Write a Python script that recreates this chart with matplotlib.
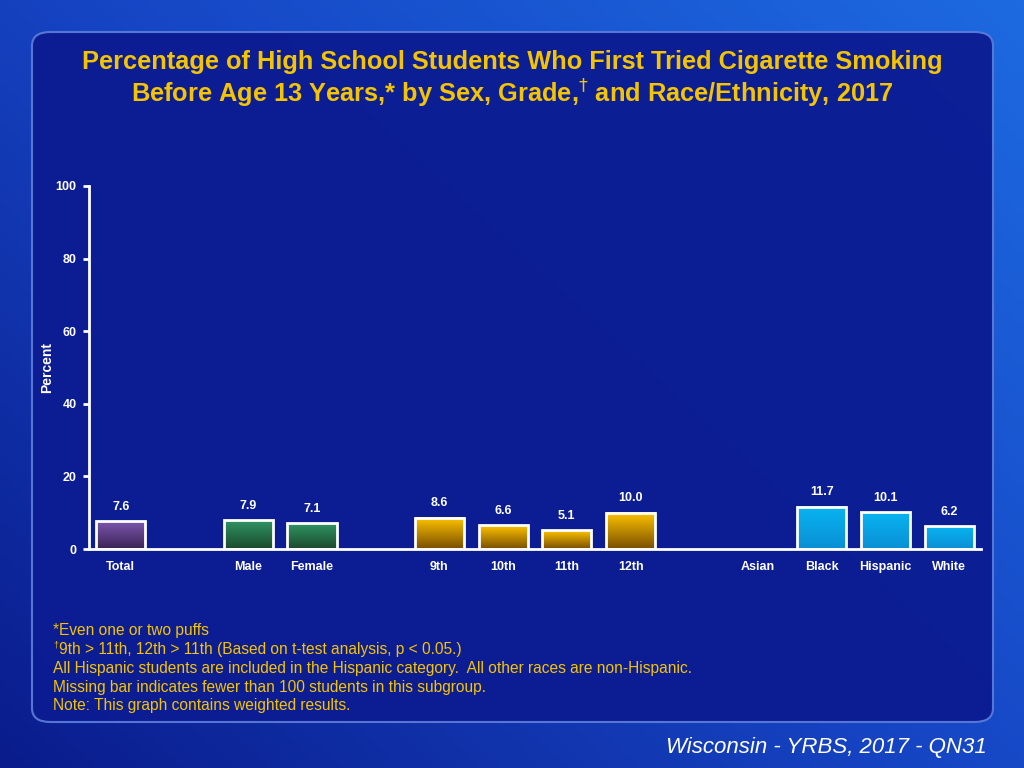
import numpy as np
import matplotlib
matplotlib.use("Agg")
import matplotlib.pyplot as plt
from matplotlib.patches import FancyBboxPatch, Rectangle
from matplotlib.colors import LinearSegmentedColormap

plt.rcParams['font.family'] = ['Liberation Sans', 'DejaVu Sans']

# data
labels = ["Total", "", "Male", "Female", "", "9th", "10th", "11th", "12th", "", "Asian", "Black", "Hispanic", "White"]
values = [7.6, None, 7.9, 7.1, None, 8.6, 6.6, 5.1, 10.0, None, None, 11.7, 10.1, 6.2]
groups = ["total", None, "sex", "sex", None, "grade", "grade", "grade", "grade", None, "race", "race", "race", "race"]

# gradient colours (top, bottom) per group
grad = {
    "total": ("#7d56b0", "#3b2354"),
    "sex": ("#2f9563", "#1b4a2e"),
    "grade": ("#ffc400", "#7a4f00"),
    "race": ("#08b4f0", "#0a8fd6"),
}

yellow = "#f5c400"

fig = plt.figure(figsize=(10.24, 7.68), dpi=100)

# background
bg = fig.add_axes([0, 0, 1, 1], zorder=-10)
bg.set_axis_off()
xx, yy = np.meshgrid(np.linspace(0, 1, 256), np.linspace(0, 1, 256))
t = np.clip(0.55 * xx + 0.45 * (1 - yy), 0, 1)
bgmap = LinearSegmentedColormap.from_list("bg", ["#0a1c8c", "#1645c4", "#1d6ae0"])
bg.imshow(t, cmap=bgmap, extent=[0, 1, 0, 1], aspect="auto", origin="upper")
bg.set_xlim(0, 1)
bg.set_ylim(0, 1)
panel = FancyBboxPatch((32 / 1024, 1 - 722 / 768), (993 - 32) / 1024, (722 - 32) / 768,
                       boxstyle="round,pad=0,rounding_size=0.018",
                       facecolor="#0c1c92", edgecolor="#5a7ad8", lw=1.5, alpha=0.96)
bg.add_patch(panel)

ax = fig.add_axes([89 / 1024, 1 - 549 / 768, (981 - 89) / 1024, (549 - 186) / 768])
ax.set_facecolor("none")

w = 0.77
for i, (v, g) in enumerate(zip(values, groups)):
    if v is None:
        continue
    top, bot = grad[g]
    cm = LinearSegmentedColormap.from_list(g, [bot, top])
    ax.imshow(np.linspace(0, 1, 64).reshape(-1, 1), cmap=cm, origin="lower",
              extent=[i - w / 2, i + w / 2, 0, v], aspect="auto", zorder=2)
    ax.add_patch(Rectangle((i - w / 2, 0), w, v, facecolor="none",
                           edgecolor="white", lw=2, zorder=3))
    ax.annotate(f"{v:.1f}", (i, v), xytext=(0, 6), textcoords="offset points",
                ha="center", va="bottom", color="white", fontsize=9, fontweight="bold")

ax.set_xlim(-0.5, len(labels) - 0.5)
ax.set_ylim(0, 100)
ax.set_xticks(range(len(labels)))
ax.set_xticklabels(labels, color="white", fontsize=9, fontweight="bold", va="baseline")
ax.tick_params(axis="x", length=0, pad=15)
ax.set_yticks([0, 20, 40, 60, 80, 100])
ax.tick_params(axis="y", colors="white", length=4, width=2, labelsize=9, pad=5)
for lab in ax.get_yticklabels():
    lab.set_fontweight("bold")
for s in ["top", "right"]:
    ax.spines[s].set_visible(False)
for s in ["left", "bottom"]:
    ax.spines[s].set_color("white")
    ax.spines[s].set_linewidth(2)
ax.set_ylabel("Percent", color="white", fontsize=10, fontweight="bold", labelpad=1)

fig.text(0.5, 1 - 62 / 768, "Percentage of High School Students Who First Tried Cigarette Smoking",
         ha="center", va="center", color=yellow, fontsize=18.3, fontweight="bold")
fig.text(0.5, 1 - 94 / 768, r"Before Age 13 Years,* by Sex, Grade,$^{\dagger}$ and Race/Ethnicity, 2017",
         ha="center", va="center", color=yellow, fontsize=18.3, fontweight="bold")

notes = [
    "*Even one or two puffs",
    "9th > 11th, 12th > 11th (Based on t-test analysis, p < 0.05.)",
    "All Hispanic students are included in the Hispanic category.  All other races are non-Hispanic.",
    "Missing bar indicates fewer than 100 students in this subgroup.",
    "Note: This graph contains weighted results.",
]
for k, line in enumerate(notes):
    x0 = 53 / 1024 if k != 1 else 59 / 1024
    fig.text(x0, 1 - (631 + k * 18.7) / 768, line, ha="left", va="center",
             color=yellow, fontsize=11.2)
fig.text(53 / 1024, 1 - 645 / 768, "\u2020", ha="left", va="center", color=yellow, fontsize=6.5)

fig.text(987 / 1024, 1 - 747 / 768, "Wisconsin - YRBS, 2017 - QN31", ha="right", va="center",
         color="white", fontsize=16, style="italic")

fig.savefig("out.png", dpi=100)
